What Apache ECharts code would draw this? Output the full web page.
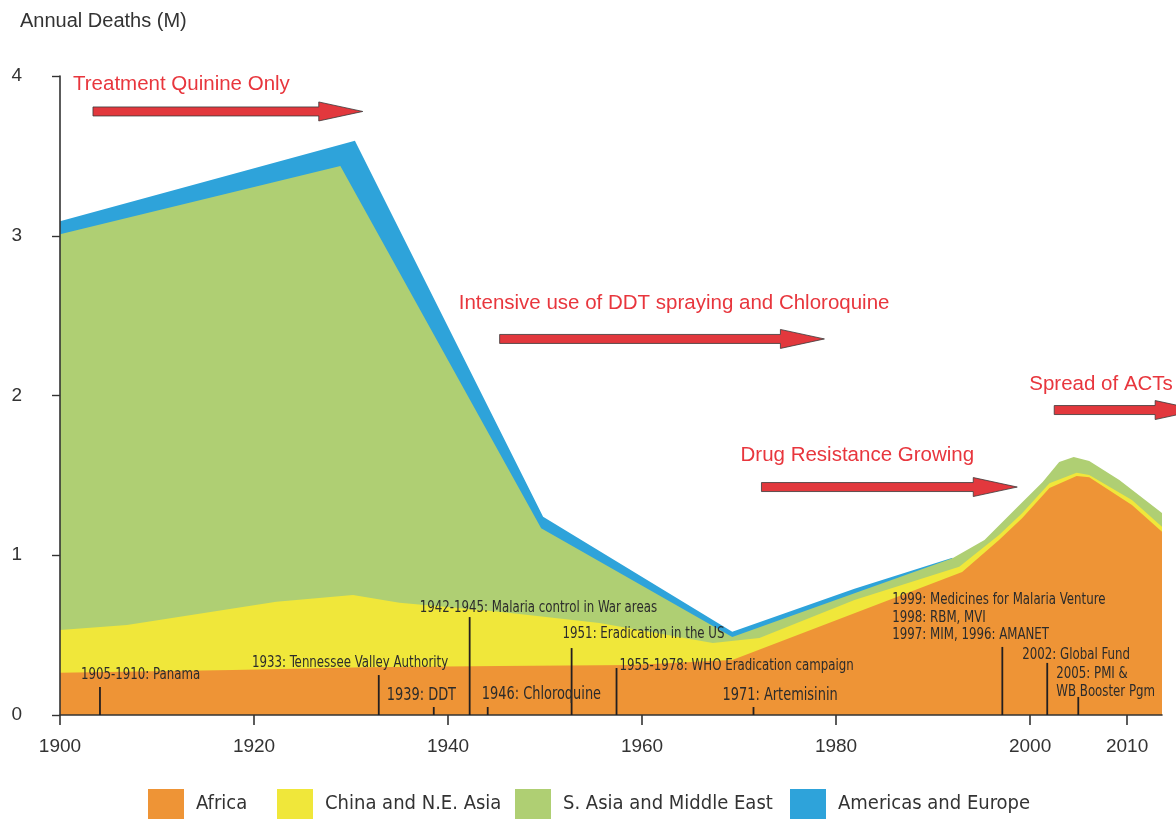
<!DOCTYPE html>
<html><head><meta charset="utf-8">
<script src="https://cdn.jsdelivr.net/npm/echarts@6/dist/echarts.min.js"></script>
<style>html,body{margin:0;padding:0;background:#fff}#c{width:1176px;height:819px}</style>
</head><body><div id="c"></div>
<script>
// ---- data (years, million annual deaths; each band given by its stacked top edge) ----
const xTickLabels = [1900, 1920, 1940, 1960, 1980, 2000, 2010];
const yTickLabels = [0, 1, 2, 3, 4];
const regionNames = ['Africa', 'China and N.E. Asia', 'S. Asia and Middle East', 'Americas and Europe'];
const regionColors = ['#EE9436', '#F0E73A', '#AFCF73', '#2EA3DA'];

const africaTop = [[1900,0.265],[1917.8,0.282],[1931.6,0.299],[1945.3,0.307],[1959.0,0.313],[1969.3,0.344],
  [1993.0,0.895],[1996.8,1.095],[1999.2,1.233],[2002.0,1.421],[2004.8,1.496],[2006.1,1.488],[2010.5,1.315],[2013.6,1.147]];
const chinaTop = [[1900,0.532],[1906.9,0.563],[1922.3,0.709],[1930.2,0.751],[1935.0,0.703],[1945.3,0.647],
  [1955.6,0.576],[1967.3,0.451],[1972.1,0.482],[1981.9,0.72],[1992.7,0.928],[1996.8,1.127],[1999.2,1.264],
  [2002.0,1.45],[2004.8,1.517],[2006.1,1.502],[2010.5,1.346],[2013.6,1.179]];
const sAsiaTop = [[1900,3.01],[1928.9,3.437],[1949.6,1.169],[1969.3,0.488],[1981.9,0.762],[1992.0,0.981],
  [1995.3,1.095],[1998.6,1.296],[2001.3,1.459],[2003.0,1.584],[2004.5,1.615],[2006.1,1.59],[2009.2,1.471],[2013.6,1.264]];
const americasTop = [[1900,3.09],[1930.4,3.595],[1949.8,1.241],[1969.3,0.521],[1981.9,0.79],[1992.0,0.985]];

// ---- annotations (data coordinates) ----
const phaseLabels = ['Treatment Quinine Only', 'Intensive use of DDT spraying and Chloroquine', 'Drug Resistance Growing', 'Spread of ACTs'];
const phaseTextPos = [[1901.34,3.95],[1941.10,2.579],[1970.15,1.628],[1999.92,2.072]];
const phaseArrows = [[1903.40,1931.21,3.778],[1945.32,1978.80,2.354],[1972.31,1998.68,1.427],[2002.49,2017.43,1.909]];

const eventLabels = ['1905-1910: Panama','1933: Tennessee Valley Authority','1939: DDT','1942-1945: Malaria control in War areas',
  '1946: Chloroquine','1951: Eradication in the US','1955-1978: WHO Eradication campaign','1971: Artemisinin',
  '1999: Medicines for Malaria Venture','1998: RBM, MVI','1997: MIM, 1996: AMANET','2002: Global Fund','2005: PMI &','WB Booster Pgm'];
const eventTextPos = [[1902.16,0.2535],[1919.78,0.3255],[1933.68,0.125],[1937.08,0.670],[1943.47,0.131],[1951.81,0.507],
  [1957.68,0.307],[1968.29,0.125],[1985.80,0.720],[1985.80,0.607],[1985.80,0.501],[1999.20,0.376],[2002.70,0.257],[2002.70,0.144]];
const eventBig = [false,false,true,false,true,false,false,true,false,false,false,false,false,false];
const eventLines = [[1904.12,0.175],[1932.86,0.25],[1938.53,0.05],[1942.23,0.613],[1944.09,0.05],[1952.74,0.419],
  [1957.37,0.294],[1971.49,0.05],[1997.14,0.426],[2001.77,0.326],[2004.97,0.113]];

const NARROW = "'Liberation Sans Narrow','Arial Narrow','DejaVu Sans Condensed',sans-serif";
const SANS = "'Liberation Sans',Arial,sans-serif";

const chart = echarts.init(document.getElementById('c'), null, {renderer: 'canvas'});

function areaSeries(name, data, color) {
  return {
    name, type: 'line', data, symbol: 'none', showSymbol: false, silent: true, smooth: false,
    lineStyle: {width: 0, opacity: 0}, itemStyle: {color}, areaStyle: {color, opacity: 1}
  };
}

const legendLefts = [148, 277, 515, 790];

chart.setOption({
  animation: false,
  backgroundColor: '#fff',
  title: {text: 'Annual Deaths (M)', left: 20, top: 11, padding: 0,
    textStyle: {fontSize: 20, fontWeight: 'normal', color: '#333', fontFamily: SANS}},
  grid: {left: 60, right: 14, top: 76, bottom: 104, containLabel: false, outerBoundsMode: 'none'},
  legend: regionNames.map((n, i) => ({
    data: [n], left: legendLefts[i], top: 789, padding: 0, itemWidth: 36, itemHeight: 30, icon: 'rect',
    selectedMode: false, textStyle: {fontSize: 20, fontFamily: NARROW, color: '#333', padding: [0, 0, 0, 7]}
  })),
  xAxis: {
    type: 'value', min: 1900, max: 2013.6, z: 10,
    axisLine: {show: true, lineStyle: {color: '#333', width: 1.6}},
    axisTick: {show: true, length: 10, customValues: xTickLabels, lineStyle: {color: '#333', width: 1.6}},
    axisLabel: {customValues: xTickLabels, margin: 22, color: '#333', fontSize: 19, fontFamily: SANS,
      formatter: v => String(v)},
    splitLine: {show: false}
  },
  yAxis: {
    type: 'value', min: 0, max: 4, interval: 1, z: 10,
    axisLine: {show: true, lineStyle: {color: '#333', width: 1.6}},
    axisTick: {show: true, length: 8, lineStyle: {color: '#333', width: 1.4}},
    axisLabel: {margin: 38, color: '#333', fontSize: 19, fontFamily: SANS,
      formatter: v => yTickLabels.indexOf(v) >= 0 ? String(v) : ''},
    splitLine: {show: false}
  },
  series: [
    areaSeries(regionNames[3], americasTop, regionColors[3]),
    areaSeries(regionNames[2], sAsiaTop, regionColors[2]),
    areaSeries(regionNames[1], chinaTop, regionColors[1]),
    areaSeries(regionNames[0], africaTop, regionColors[0])
  ]
});

function px(p) { return chart.convertToPixel({gridIndex: 0}, p); }
const zeroY = px([1900, 0])[1];
const g = [];
// phase labels and arrows
phaseLabels.forEach((t, i) => {
  const p = px(phaseTextPos[i]);
  g.push({type: 'text', x: p[0], y: p[1], z: 100,
    style: {text: t, fill: '#E8363D', fontSize: 20.5, fontFamily: SANS, align: 'left', verticalAlign: 'middle'}});
  const a = phaseArrows[i];
  const s = px([a[0], a[2]]), e = px([a[1], a[2]]);
  const y = s[1], x0 = s[0], x1 = e[0], hl = 44, bh = 4.5, hh = 9.5;
  g.push({type: 'polygon', z: 100, shape: {points: [[x0, y - bh], [x1 - hl, y - bh], [x1 - hl, y - hh], [x1, y],
    [x1 - hl, y + hh], [x1 - hl, y + bh], [x0, y + bh]]},
    style: {fill: '#E2383D', stroke: '#3a3a3a', lineWidth: 0.8}});
});
// event lines
eventLines.forEach(l => {
  const top = px(l);
  g.push({type: 'line', z: 100, shape: {x1: top[0], y1: top[1], x2: top[0], y2: zeroY},
    style: {stroke: '#231F20', lineWidth: 1.8}});
});
// event texts (condensed look)
eventLabels.forEach((t, i) => {
  const p = px(eventTextPos[i]);
  g.push({type: 'text', x: p[0], y: p[1], z: 100, scaleX: eventBig[i] ? 0.8 : 0.82, scaleY: 1,
    style: {text: t, fill: '#2b2b2b', fontSize: eventBig[i] ? 18 : 16, fontFamily: NARROW, align: 'left', verticalAlign: 'middle'}});
});
chart.setOption({graphic: g});
</script>
</body></html>
